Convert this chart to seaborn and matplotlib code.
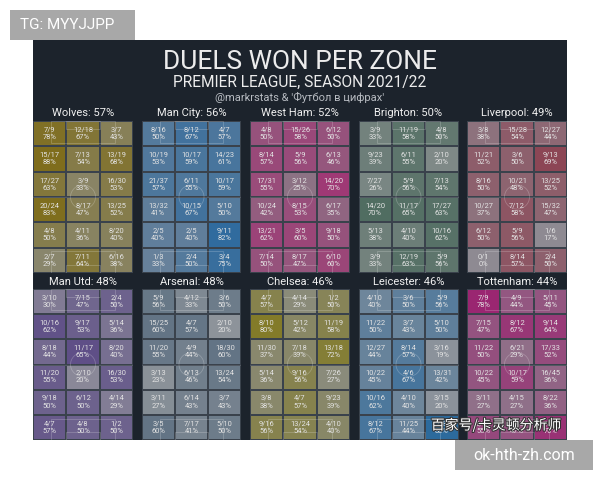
import numpy as np
import matplotlib
matplotlib.use("Agg")
import matplotlib.pyplot as plt
import seaborn as sns
from matplotlib.colors import LinearSegmentedColormap
from matplotlib.patches import Rectangle, Ellipse
import matplotlib.patheffects as pe

sns.set_theme(style="white")
plt.rcParams['font.family'] = ['Roboto', 'Noto Sans CJK SC', 'DejaVu Sans']

# duels won / total per zone, 6 rows (top->bottom) x 3 cols
teams = ["Wolves", "Man City", "West Ham", "Brighton", "Liverpool",
         "Man Utd", "Arsenal", "Chelsea", "Leicester", "Tottenham"]
team_pct = [57, 56, 52, 50, 49, 48, 48, 46, 46, 44]

wolves_won = [7, 12, 3, 15, 7, 13, 17, 3, 16, 20, 8, 13, 4, 4, 8, 2, 7, 6]
wolves_all = [9, 18, 7, 17, 13, 19, 27, 9, 30, 24, 17, 25, 8, 11, 20, 7, 11, 16]
mancity_won = [8, 8, 4, 10, 10, 14, 21, 6, 10, 13, 10, 5, 2, 2, 9, 1, 2, 3]
mancity_all = [16, 12, 7, 19, 17, 23, 37, 11, 17, 32, 15, 10, 5, 5, 11, 3, 4, 4]
westham_won = [4, 15, 6, 8, 5, 6, 17, 3, 14, 10, 8, 6, 13, 3, 9, 7, 8, 6]
westham_all = [8, 26, 12, 14, 9, 13, 31, 12, 20, 24, 15, 17, 21, 5, 18, 14, 17, 10]
brighton_won = [3, 11, 4, 9, 6, 2, 7, 5, 7, 14, 11, 17, 5, 4, 10, 3, 12, 5]
brighton_all = [9, 19, 8, 23, 11, 10, 27, 9, 13, 20, 17, 27, 13, 10, 16, 9, 19, 9]
liverpool_won = [3, 15, 12, 11, 3, 9, 8, 10, 13, 10, 7, 15, 6, 5, 1, 0, 8, 2]
liverpool_all = [8, 28, 27, 21, 6, 13, 16, 21, 25, 27, 12, 32, 12, 9, 6, 1, 14, 4]
manutd_won = [3, 7, 2, 10, 9, 5, 8, 11, 8, 11, 2, 16, 9, 6, 4, 4, 4, 1]
manutd_all = [10, 15, 4, 16, 17, 14, 18, 17, 20, 20, 10, 30, 18, 12, 14, 7, 8, 2]
arsenal_won = [5, 4, 3, 15, 4, 2, 11, 4, 18, 3, 6, 13, 3, 6, 3, 3, 7, 5]
arsenal_all = [9, 12, 6, 25, 7, 10, 20, 9, 30, 13, 13, 24, 11, 14, 7, 5, 17, 10]
chelsea_won = [4, 4, 1, 8, 5, 11, 11, 7, 13, 5, 9, 7, 3, 4, 9, 9, 13, 4]
chelsea_all = [7, 14, 2, 10, 12, 19, 30, 18, 18, 14, 16, 26, 8, 7, 23, 16, 24, 10]
leicester_won = [4, 3, 5, 11, 3, 5, 12, 8, 3, 10, 4, 13, 10, 4, 3, 8, 11, 7]
leicester_all = [10, 6, 9, 22, 7, 10, 27, 14, 16, 22, 6, 31, 16, 10, 15, 12, 25, 8]
spurs_won = [7, 4, 5, 7, 8, 9, 11, 6, 17, 10, 10, 16, 3, 4, 8, 6, 7, 7]
spurs_all = [9, 9, 11, 15, 12, 14, 22, 21, 33, 22, 17, 45, 11, 15, 22, 11, 15, 10]

won_lists = [wolves_won, mancity_won, westham_won, brighton_won, liverpool_won,
             manutd_won, arsenal_won, chelsea_won, leicester_won, spurs_won]
all_lists = [wolves_all, mancity_all, westham_all, brighton_all, liverpool_all,
             manutd_all, arsenal_all, chelsea_all, leicester_all, spurs_all]

# low / high colour per team
low_cols = ["#8b8a78", "#76879a", "#8a7886", "#7f8987", "#8e8a92",
            "#8a8898", "#8d939a", "#8b8d86", "#8b929b", "#8e7a8c"]
high_cols = ["#7f6d1c", "#2d6a9e", "#a52670", "#426556", "#8c3042",
             "#4c3680", "#486178", "#827a22", "#2c6a9c", "#9c1c6e"]

bg = "#1c232c"
fig = plt.figure(figsize=(6, 4.8), dpi=100)
fig.patch.set_facecolor("white")
fig.patches.append(Rectangle((33 / 600, 40 / 480), 534 / 600, 400 / 480,
                             transform=fig.transFigure, facecolor=bg,
                             edgecolor="none", zorder=-5))

fig.text(0.5, 1 - 62 / 480, "DUELS WON PER ZONE", ha="center", va="center",
         fontsize=19, color="#ececec")
fig.text(0.5, 1 - 82 / 480, "PREMIER LEAGUE, SEASON 2021/22", ha="center",
         va="center", fontsize=11.2, color="#ececec")
fig.text(0.5, 1 - 97 / 480, "@markrstats & 'Футбол в цифрах'", ha="center",
         va="center", fontsize=8, color="#b8bcc2")

pw = 100 / 600
for i, team in enumerate(teams):
    r, c = divmod(i, 5)
    left = (33 + c * 108.5) / 600
    if r == 0:
        bot, top = 1 - 273 / 480, 1 - 121 / 480
        lab_y = 1 - 113 / 480
    else:
        bot, top = 1 - 440 / 480, 1 - 289 / 480
        lab_y = 1 - 282 / 480
    ax = fig.add_axes([left, bot, pw, top - bot])
    won = np.array(won_lists[i]).reshape(6, 3)
    tot = np.array(all_lists[i]).reshape(6, 3)
    pct = won / tot
    labels = np.array([f"{w}/{t}\n{round(w / t * 100)}%"
                       for w, t in zip(won.ravel(), tot.ravel())]).reshape(6, 3)
    cmap = LinearSegmentedColormap.from_list(team, [low_cols[i], high_cols[i]])
    sns.heatmap(pct, ax=ax, cmap=cmap, vmin=0.2, vmax=0.85, cbar=False,
                annot=labels, fmt="", linewidths=0.25, linecolor="#3a424c",
                xticklabels=False, yticklabels=False,
                annot_kws={"fontsize": 5.4, "color": "#e4e4e4", "linespacing": 1.1})
    # faint pitch markings
    lc = dict(fill=False, edgecolor="white", alpha=0.22, lw=0.6)
    ax.add_patch(Rectangle((0.55, 0), 1.9, 0.85, **lc))
    ax.add_patch(Rectangle((1.0, 0), 1.0, 0.3, **lc))
    ax.add_patch(Rectangle((0.55, 5.15), 1.9, 0.85, **lc))
    ax.add_patch(Rectangle((1.0, 5.7), 1.0, 0.3, **lc))
    ax.add_patch(Ellipse((1.5, 3), 0.75, 0.95, **lc))
    ax.axhline(3, color="white", alpha=0.15, lw=0.6)
    fig.text(left + pw / 2, lab_y, f"{team}: {team_pct[i]}%", ha="center",
             va="center", fontsize=8, color="#f0f0f0")

# watermarks
fig.patches.append(Rectangle((10 / 600, 1 - 40 / 480), 125 / 600, 30 / 480,
                             transform=fig.transFigure, facecolor="#a8a8a8",
                             edgecolor="none", zorder=5))
fig.text(20 / 600, 1 - 25 / 480, "TG: MYYJJPP", ha="left", va="center",
         fontsize=11, color="white", zorder=6)
fig.patches.append(Rectangle((455 / 600, 1 - 470 / 480), 138 / 600, 30 / 480,
                             transform=fig.transFigure, facecolor="#a8a8a8",
                             edgecolor="none", zorder=5))
fig.text(524 / 600, 1 - 455 / 480, "ok-hth-zh.com", ha="center", va="center",
         fontsize=11.5, color="white", zorder=6)
t = fig.text(496 / 600, 1 - 425 / 480, "百家号/卡灵顿分析师", ha="center",
             va="center", fontsize=10, color="white", zorder=6,
             family=["Noto Sans CJK SC", "DejaVu Sans"])
t.set_path_effects([pe.withStroke(linewidth=1.5, foreground="#333333")])

fig.savefig("out.png", dpi=100)
